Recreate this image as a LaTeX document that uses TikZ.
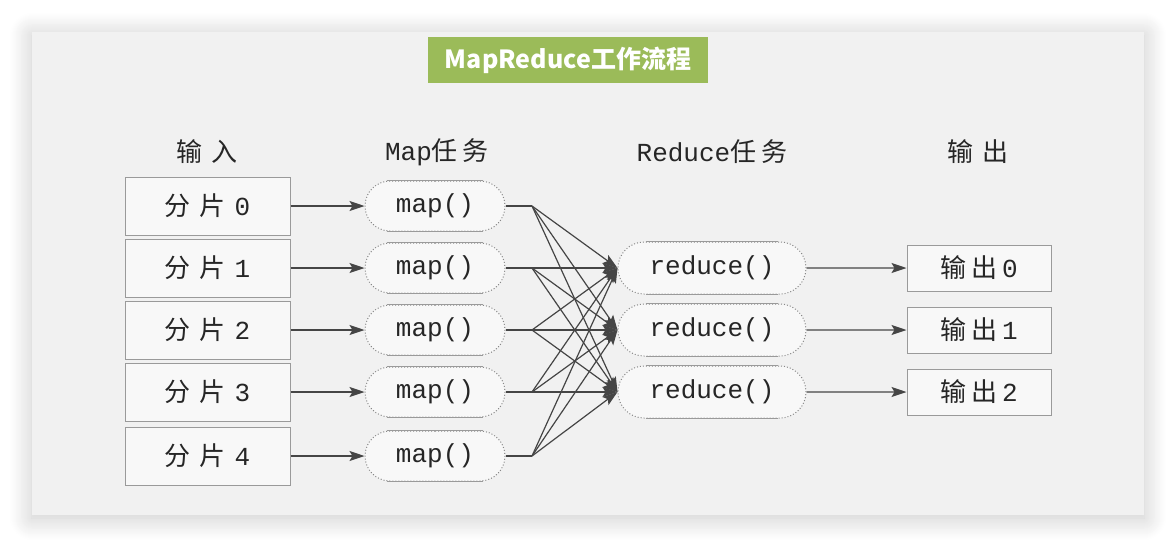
\documentclass[tikz,border=0pt]{standalone}
\usepackage{fontspec}
\setmainfont{Liberation Mono}
\newfontfamily\zhfont{Noto Sans CJK SC}
\usetikzlibrary{arrows.meta,shapes.misc,shadows.blur}

\definecolor{panelgray}{HTML}{F1F1F1}
\definecolor{boxfill}{HTML}{F8F8F8}
\definecolor{titlegreen}{HTML}{9BBB59}
\definecolor{linegray}{HTML}{454545}
\definecolor{rimgray}{HTML}{9A9A9A}
\definecolor{dotgray}{HTML}{888888}

\newcommand{\zh}[1]{{\zhfont #1}}
\newcommand{\gp}{\hspace{9pt}}
\newcommand{\sgp}{\hspace{5pt}}

\tikzset{
  boxtext/.style={font=\fontsize{26}{30}\selectfont, text=black!85},
  splitbox/.style={boxtext, draw=rimgray, fill=boxfill, line width=1pt,
    minimum width=165pt, minimum height=58pt, inner sep=0pt},
  outbox/.style={boxtext, draw=rimgray, fill=boxfill, line width=1pt,
    minimum width=144pt, minimum height=46pt, inner sep=0pt},
  maptask/.style={boxtext, rounded rectangle, draw=dotgray, dotted, line width=1pt,
    fill=boxfill, minimum width=140pt, minimum height=50pt, inner sep=0pt,
    append after command={
      ([xshift=-48pt]\tikzlastnode.north) edge[rimline] ([xshift=48pt]\tikzlastnode.north)
      ([xshift=-48pt]\tikzlastnode.south) edge[rimline] ([xshift=48pt]\tikzlastnode.south)}},
  redtask/.style={boxtext, rounded rectangle, draw=dotgray, dotted, line width=1pt,
    fill=boxfill, minimum width=188pt, minimum height=52pt, inner sep=0pt,
    append after command={
      ([xshift=-66pt]\tikzlastnode.north) edge[rimline] ([xshift=66pt]\tikzlastnode.north)
      ([xshift=-66pt]\tikzlastnode.south) edge[rimline] ([xshift=66pt]\tikzlastnode.south)}},
  rimline/.style={solid, draw=rimgray, line width=1pt},
  header/.style={boxtext},
  flow/.style={draw=linegray, line width=1.2pt},
  flowarr/.style={flow, -{Stealth[length=15pt,width=10pt,inset=3pt]}},
}

\begin{document}
\begin{tikzpicture}[x=1pt,y=-1pt]
  \useasboundingbox (0,0) rectangle (1176,547);

  % panel
  \fill[panelgray, blur shadow={shadow xshift=0pt, shadow yshift=-3pt,
    shadow blur radius=22pt, shadow blur steps=24, shadow opacity=22}]
    (32,32) rectangle (1144,515);

  % title
  \node[fill=titlegreen, minimum width=280pt, minimum height=46pt, inner sep=0pt,
    text=white, font=\zhfont\bfseries\fontsize{25}{30}\selectfont]
    (title) at (568,60) {MapReduce工作流程};

  % headers
  \node[header] (hin)  at (207,152) {\zh{输\gp 入}};
  \node[header] (hmap) at (437,152) {Map\zh{任\sgp 务}};
  \node[header] (hred) at (712,152) {Reduce\zh{任\sgp 务}};
  \node[header] (hout) at (978,152) {\zh{输\gp 出}};

  % splits
  \node[splitbox] (in0) at (207.5,206) {\zh{分\gp 片}\gp 0};
  \node[splitbox] (in1) at (207.5,268) {\zh{分\gp 片}\gp 1};
  \node[splitbox] (in2) at (207.5,330) {\zh{分\gp 片}\gp 2};
  \node[splitbox] (in3) at (207.5,392) {\zh{分\gp 片}\gp 3};
  \node[splitbox] (in4) at (207.5,456) {\zh{分\gp 片}\gp 4};

  % map tasks
  \node[maptask] (map0) at (435,206) {map()};
  \node[maptask] (map1) at (435,268) {map()};
  \node[maptask] (map2) at (435,330) {map()};
  \node[maptask] (map3) at (435,392) {map()};
  \node[maptask] (map4) at (435,456) {map()};

  % reduce tasks
  \node[redtask] (red0) at (712,268) {reduce()};
  \node[redtask] (red1) at (712,330) {reduce()};
  \node[redtask] (red2) at (712,392) {reduce()};

  % outputs
  \node[outbox] (out0) at (979,268) {\zh{输\sgp 出}\sgp 0};
  \node[outbox] (out1) at (979,330) {\zh{输\sgp 出}\sgp 1};
  \node[outbox] (out2) at (979,392) {\zh{输\sgp 出}\sgp 2};

  % forks
  \coordinate (fk0) at (532,206);
  \coordinate (fk1) at (532,268);
  \coordinate (fk2) at (532,330);
  \coordinate (fk3) at (532,392);
  \coordinate (fk4) at (532,456);

  % input -> map
  \draw[flowarr] (in0) -- (map0);
  \draw[flowarr] (in1) -- (map1);
  \draw[flowarr] (in2) -- (map2);
  \draw[flowarr] (in3) -- (map3);
  \draw[flowarr] (in4) -- (map4);

  % map -> fork
  \draw[flow] (map0.east) -- (fk0);
  \draw[flow] (map1.east) -- (fk1);
  \draw[flow] (map2.east) -- (fk2);
  \draw[flow] (map3.east) -- (fk3);
  \draw[flow] (map4.east) -- (fk4);

  % shuffle
  \draw[flowarr] (fk0) -- (red0.west);
  \draw[flowarr] (fk0) -- (red1.west);
  \draw[flowarr] (fk0) -- (red2.west);
  \draw[flowarr] (fk1) -- (red0.west);
  \draw[flowarr] (fk1) -- (red1.west);
  \draw[flowarr] (fk1) -- (red2.west);
  \draw[flowarr] (fk2) -- (red0.west);
  \draw[flowarr] (fk2) -- (red1.west);
  \draw[flowarr] (fk2) -- (red2.west);
  \draw[flowarr] (fk3) -- (red0.west);
  \draw[flowarr] (fk3) -- (red1.west);
  \draw[flowarr] (fk3) -- (red2.west);
  \draw[flowarr] (fk4) -- (red0.west);
  \draw[flowarr] (fk4) -- (red1.west);
  \draw[flowarr] (fk4) -- (red2.west);

  % reduce -> output
  \draw[flowarr] (red0) -- (out0);
  \draw[flowarr] (red1) -- (out1);
  \draw[flowarr] (red2) -- (out2);

\end{tikzpicture}
\end{document}
